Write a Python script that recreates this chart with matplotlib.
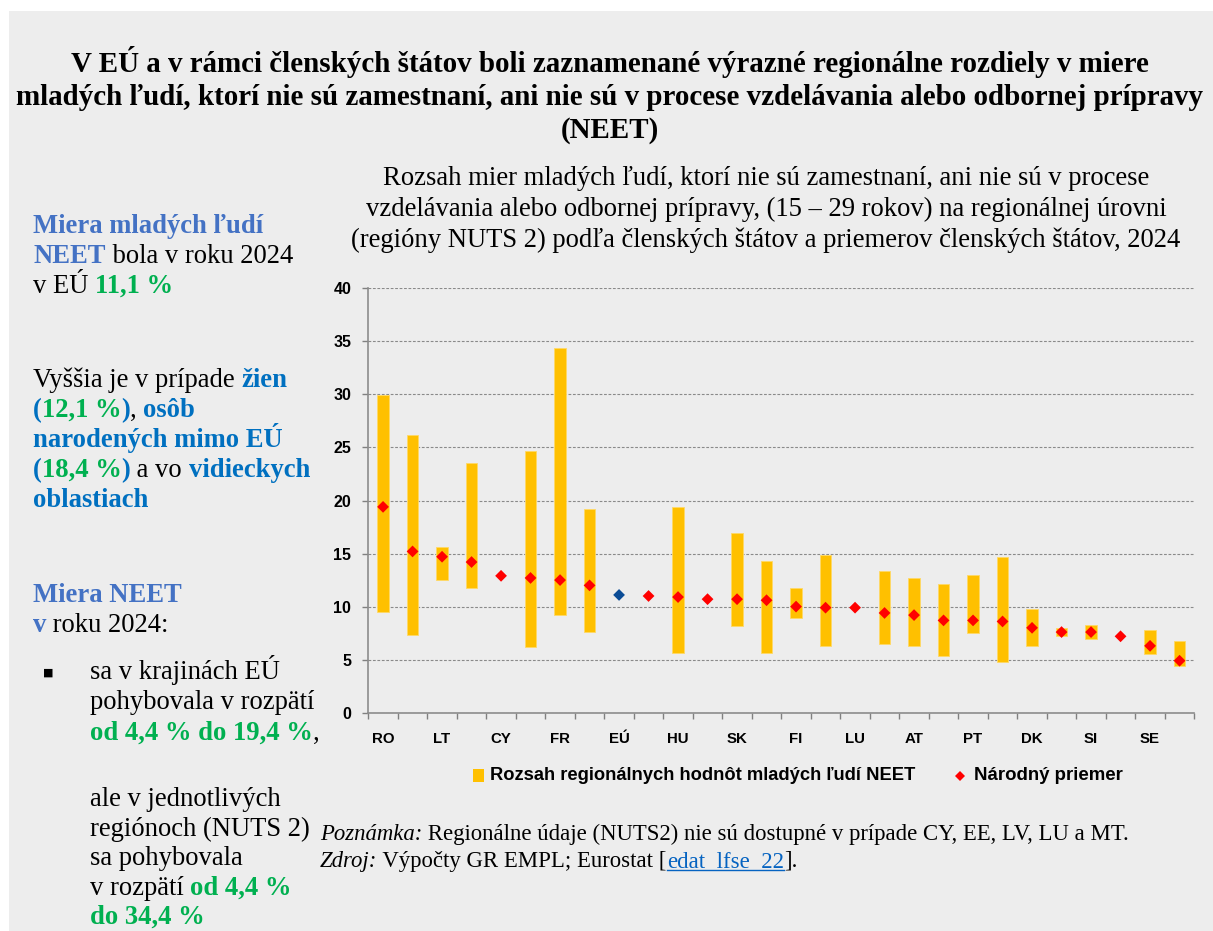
import numpy as np
import matplotlib
matplotlib.use("Agg")
import matplotlib.pyplot as plt
from matplotlib.patches import Rectangle
from matplotlib.lines import Line2D

# ---------------- data ----------------
countries = ['RO', 'IT', 'LT', 'BG', 'CY', 'ES', 'FR', 'EL', 'EÚ', 'EE', 'HU', 'LV', 'SK', 'HR',
             'FI', 'BE', 'LU', 'PL', 'AT', 'CZ', 'PT', 'DE', 'DK', 'IE', 'SI', 'MT', 'SE', 'NL']
national_avg = [19.4, 15.2, 14.7, 14.2, 12.9, 12.7, 12.5, 12.0, 11.1, 11.0, 10.9, 10.7, 10.7, 10.6,
                10.0, 9.9, 9.9, 9.4, 9.2, 8.7, 8.7, 8.6, 8.0, 7.6, 7.6, 7.2, 6.3, 4.9]
regional_min = [9.5, 7.3, 12.5, 11.8, np.nan, 6.2, 9.2, 7.6, np.nan, np.nan, 5.6, np.nan, 8.2, 5.6,
                8.9, 6.3, np.nan, 6.5, 6.3, 5.3, 7.5, 4.8, 6.3, 7.2, 6.9, np.nan, 5.5, 4.4]
regional_max = [29.9, 26.2, 15.6, 23.5, np.nan, 24.7, 34.4, 19.2, np.nan, np.nan, 19.4, np.nan, 16.9, 14.3,
                11.8, 14.9, np.nan, 13.4, 12.7, 12.1, 13.0, 14.7, 9.8, 8.0, 8.3, np.nan, 7.8, 6.8]
y_ticks = [0, 5, 10, 15, 20, 25, 30, 35, 40]
legend_labels = ['Rozsah regionálnych hodnôt mladých ľudí NEET', 'Národný priemer']

title_lines = ['V EÚ a v rámci členských štátov boli zaznamenané výrazné regionálne rozdiely v miere',
               'mladých ľudí, ktorí nie sú zamestnaní, ani nie sú v procese vzdelávania alebo odbornej prípravy',
               '(NEET)']
subtitle_lines = ['Rozsah mier mladých ľudí, ktorí nie sú zamestnaní, ani nie sú v procese',
                  'vzdelávania alebo odbornej prípravy, (15 – 29 rokov) na regionálnej úrovni',
                  '(regióny NUTS 2) podľa členských štátov a priemerov členských štátov, 2024']

# ---------------- figure ----------------
W, H = 1213, 931
fig = plt.figure(figsize=(W / 100, H / 100), dpi=100, facecolor='white')
renderer = fig.canvas.get_renderer()
fig.patches.append(Rectangle((9 / W, 0), (W - 9) / W, 1 - 11 / H, transform=fig.transFigure,
                             facecolor='#EDEDED', edgecolor='none', zorder=-10))

SERIF = 'Liberation Serif'
SANS = 'Liberation Sans'
BLACK = '#000000'
BLUE1 = '#4472C4'
BLUE2 = '#0070C0'
GREEN = '#00B050'


def fx(x):
    return x / W


def fy(y):
    return 1 - y / H


def width_of(s, **kw):
    t = fig.text(0, 0, s, **kw)
    w = t.get_window_extent(renderer).width
    t.remove()
    return w


def rich(x, y, parts, size, family=SERIF):
    for s, color, weight, style in parts:
        kw = dict(fontsize=size, fontweight=weight, fontstyle=style, family=family)
        fig.text(fx(x), fy(y), s, color=color, va='baseline', ha='left', **kw)
        x += width_of('|' + s + '|', **kw) - width_of('||', **kw)
    return x


# titles
for line, yb in zip(title_lines, [72, 105, 138]):
    fig.text(fx(610), fy(yb), line, ha='center', va='baseline', family=SERIF,
             fontweight='bold', fontsize=20.9, color=BLACK)
for line, yb in zip(subtitle_lines, [185, 216, 247]):
    fig.text(fx(766), fy(yb), line, ha='center', va='baseline', family=SERIF,
             fontsize=19.2, color=BLACK)

# left panel text
LS = 19.2
N, B = 'normal', 'bold'
R = 'normal'
rich(33, 233, [('Miera mladých ľudí', BLUE1, B, R)], LS)
rich(33, 263, [('NEET', BLUE1, B, R), (' bola v roku 2024', BLACK, N, R)], LS)
rich(33, 293, [('v EÚ ', BLACK, N, R), ('11,1 %', GREEN, B, R)], LS)
rich(33, 387, [('Vyššia je v prípade ', BLACK, N, R), ('žien', BLUE2, B, R)], LS)
rich(33, 417, [('(', BLUE2, B, R), ('12,1 %', GREEN, B, R), (')', BLUE2, B, R),
               (', ', BLACK, N, R), ('osôb', BLUE2, B, R)], LS)
rich(33, 447, [('narodených mimo EÚ', BLUE2, B, R)], LS)
rich(33, 477, [('(', BLUE2, B, R), ('18,4 %', GREEN, B, R), (')', BLUE2, B, R),
               (' a vo ', BLACK, N, R), ('vidieckych', BLUE2, B, R)], LS)
rich(33, 507, [('oblastiach', BLUE2, B, R)], LS)

rich(33, 602, [('Miera NEET', BLUE1, B, R)], LS)
rich(33, 632, [('v', BLUE1, B, R), (' roku 2024:', BLACK, N, R)], LS)
fig.text(fx(43), fy(676), '■', family='DejaVu Sans', fontsize=8, va='baseline', ha='left', color=BLACK)
rich(90, 679, [('sa v krajinách EÚ', BLACK, N, R)], LS)
rich(90, 709, [('pohybovala v rozpätí', BLACK, N, R)], LS)
rich(90, 740, [('od 4,4 % do 19,4 %', GREEN, B, R), (',', BLACK, N, R)], LS)
rich(90, 806, [('ale v jednotlivých', BLACK, N, R)], LS)
rich(90, 836, [('regiónoch (NUTS 2)', BLACK, N, R)], LS)
rich(90, 865, [('sa pohybovala', BLACK, N, R)], LS)
rich(90, 895, [('v rozpätí ', BLACK, N, R), ('od 4,4 %', GREEN, B, R)], LS)
rich(90, 924, [('do 34,4 %', GREEN, B, R)], LS)

# note / source
NS = 16.4
rich(320, 840, [('Poznámka:', BLACK, N, 'italic'),
                (' Regionálne údaje (NUTS2) nie sú dostupné v prípade CY, EE, LV, LU a MT.', BLACK, N, R)], NS)
x0 = rich(320, 867, [('Zdroj:', BLACK, N, 'italic'), (' Výpočty GR EMPL; Eurostat [', BLACK, N, R)], NS)
x1 = rich(x0, 867, [('edat_lfse_22', '#0563C1', N, R)], NS)
fig.add_artist(Line2D([fx(x0), fx(x1)], [fy(869.5), fy(869.5)], color='#0563C1', lw=1, transform=fig.transFigure))
rich(x1, 867, [('].', BLACK, N, R)], NS)

# ---------------- chart ----------------
ax = fig.add_axes([368.3 / W, 1 - 712.7 / H, (1194.3 - 368.3) / W, (712.7 - 288.3) / H])
ax.set_facecolor('none')
n = len(countries)
x = np.arange(n)
mn = np.array(regional_min)
mx = np.array(regional_max)
ax.bar(x, mx - mn, bottom=mn, width=0.39, color='#FFC000', edgecolor='#FFD966', linewidth=0.6, zorder=3)
colors = ['#0B4C96' if c == 'EÚ' else '#FF0000' for c in countries]
ax.scatter(x, national_avg, marker='D', s=36, c=colors, edgecolors='none', zorder=4)

ax.set_xlim(-0.5, n - 0.5)
ax.set_ylim(0, 40)
ax.set_yticks(y_ticks)
ax.set_yticklabels([str(v) for v in y_ticks], family=SANS, fontweight='bold', fontsize=11.5)
ax.set_xticks(x)
ax.set_xticklabels([c if i % 2 == 0 else '' for i, c in enumerate(countries)],
                   family=SANS, fontweight='bold', fontsize=10.8)
ax.set_xticks(np.arange(n + 1) - 0.5, minor=True)
ax.tick_params(axis='x', which='major', length=0, pad=14)
ax.tick_params(axis='x', which='minor', length=4, color='#808080', width=1)
ax.tick_params(axis='y', which='major', length=4.3, color='#808080', width=1, pad=8)
ax.yaxis.grid(True, linestyle=(0, (2.5, 1.5)), color='#8a8a8a', linewidth=0.8, zorder=0)
ax.set_axisbelow(True)
for s in ['top', 'right']:
    ax.spines[s].set_visible(False)
for s in ['left', 'bottom']:
    ax.spines[s].set_color('#8c8c8c')
    ax.spines[s].set_linewidth(1.2)

# legend
fig.add_artist(Rectangle((fx(473), fy(781.5)), 11 / W, 12.5 / H, transform=fig.transFigure,
                         facecolor='#FFC000', edgecolor='none'))
fig.text(fx(489.7), fy(780), legend_labels[0], family=SANS, fontweight='bold', fontsize=13.2,
         va='baseline', ha='left')
fig.add_artist(Line2D([fx(960.4)], [fy(775.5)], marker='D', markersize=5.4, color='#FF0000',
                      markeredgewidth=0, linestyle='none', transform=fig.transFigure))
fig.text(fx(974.5), fy(780), legend_labels[1], family=SANS, fontweight='bold', fontsize=13.4,
         va='baseline', ha='left')

fig.savefig('out.png', dpi=100, facecolor=fig.get_facecolor())
